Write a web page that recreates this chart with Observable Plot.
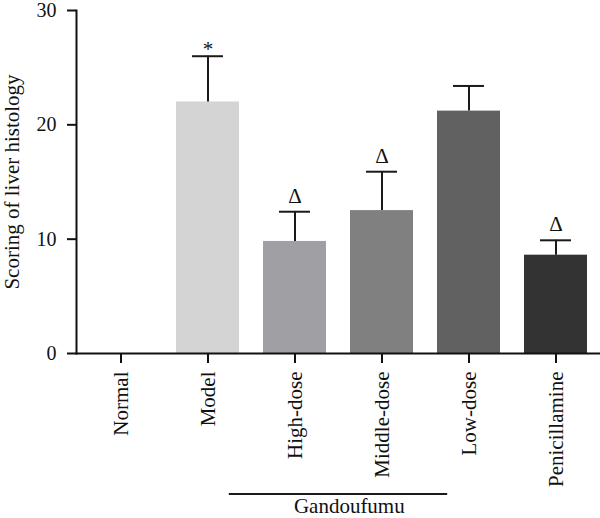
<!DOCTYPE html>
<html>
<head>
<meta charset="utf-8">
<script src="https://cdn.jsdelivr.net/npm/d3@7"></script>
<script src="https://cdn.jsdelivr.net/npm/@observablehq/plot@0.6"></script>
<style>
  html, body { margin: 0; padding: 0; background: #fff; }
</style>
</head>
<body>
<div id="chart"></div>
<script>
const groups = ["Normal", "Model", "High-dose", "Middle-dose", "Low-dose", "Penicillamine"];
const means = [0, 22.0, 9.8, 12.5, 21.2, 8.6];
const uppers = [null, 26.0, 12.4, 15.9, 23.4, 9.9];
const marks = ["", "*", "Δ", "Δ", "", "Δ"];
const colors = ["#ffffff", "#d4d4d4", "#a0a0a4", "#808080", "#616161", "#333333"];
const yTicks = [0, 10, 20, 30];
const yLabel = "Scoring of liver histology";
const groupLabel = "Gandoufumu";
const groupMembers = ["High-dose", "Middle-dose"];

const data = groups.map((g, i) => ({group: g, mean: means[i], upper: uppers[i], mark: marks[i]}));
const withErr = data.filter(d => d.upper != null);

const chart = Plot.plot({
  width: 600,
  height: 518,
  marginLeft: 76,
  marginRight: 1,
  marginTop: 10,
  marginBottom: 165,
  style: {fontFamily: "'Liberation Serif', 'DejaVu Serif', serif", fontSize: "21px", color: "#111", background: "#fff"},
  x: {domain: groups, paddingInner: 0.28, paddingOuter: 0.14, label: null},
  y: {domain: [0, 30], label: null},
  color: {domain: groups, range: colors},
  marks: [
    Plot.barY(data, {x: "group", y: "mean", fill: "group"}),
    Plot.ruleX(withErr, {x: "group", y1: "mean", y2: "upper", stroke: "#1a1a1a", strokeWidth: 2}),
    Plot.tickY(withErr, {x: "group", y: "upper", stroke: "#1a1a1a", strokeWidth: 2, insetLeft: 16, insetRight: 16}),
    Plot.text(data.filter(d => d.mark === "*"), {x: "group", y: "upper", text: "mark", lineAnchor: "bottom", dy: 0, fontSize: 21}),
    Plot.text(data.filter(d => d.mark === "Δ"), {x: "group", y: "upper", text: "mark", lineAnchor: "bottom", dy: -9, fontSize: 21}),
    Plot.axisY({ticks: yTicks, tickSize: 9, tickPadding: 11, strokeWidth: 2, fontSize: 20, label: null}),
    Plot.axisX({tickSize: 10, tickPadding: 8, tickRotate: -90, strokeWidth: 2, label: null}),
    Plot.frame({anchor: "left", strokeWidth: 2}),
    Plot.frame({anchor: "bottom", strokeWidth: 2}),
    Plot.text([yLabel], {frameAnchor: "left", dx: -64, rotate: -90, textAnchor: "middle", lineAnchor: "middle"})
  ]
});

// Group bracket under the High-dose and Middle-dose labels, placed with the x scale
const xs = chart.scale("x");
const bw = xs.bandwidth;
const step = xs.step;
const c1 = xs.apply(groupMembers[0]) + bw / 2;
const c2 = xs.apply(groupMembers[1]) + bw / 2;
const x1 = c1 - 0.755 * step;
const x2 = c2 + 0.755 * step;
const svg = d3.select(chart);
svg.append("line")
  .attr("x1", x1).attr("x2", x2)
  .attr("y1", 494).attr("y2", 494)
  .attr("stroke", "#1a1a1a").attr("stroke-width", 2);
svg.append("text")
  .attr("x", (x1 + x2) / 2 + 0.13 * step)
  .attr("y", 513)
  .attr("text-anchor", "middle")
  .attr("fill", "#111")
  .text(groupLabel);

document.getElementById("chart").appendChild(chart);
</script>
</body>
</html>
